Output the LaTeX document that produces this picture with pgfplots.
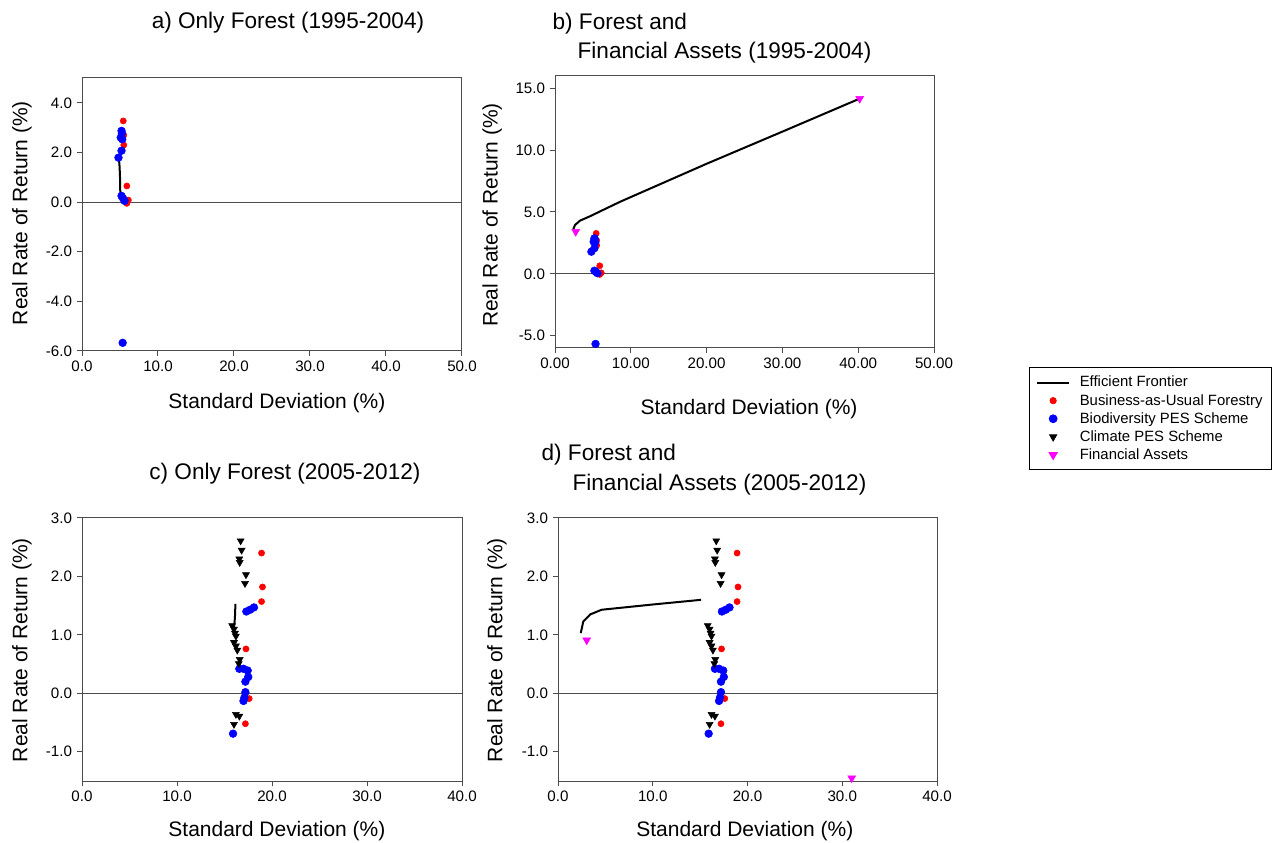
\documentclass[border=0pt]{standalone}
\usepackage{fontspec}
\setmainfont{Liberation Sans}
\usepackage{pgfplots}
\usepackage{pgfplotstable}
\pgfplotsset{compat=1.18}
\definecolor{mag}{RGB}{255,0,255}
\definecolor{bred}{RGB}{255,0,0}
\definecolor{bblue}{RGB}{0,0,255}

% ---------- data 1995-2004 ----------
\pgfplotstableread{
x y
5.43 3.27
5.50 2.70
5.50 2.30
5.90 0.65
6.10 0.08
5.90 -0.05
}\bauA
\pgfplotstableread{
x y
5.20 2.87
5.25 2.77
5.10 2.60
5.30 2.53
5.20 2.07
4.80 1.79
5.20 0.25
5.40 0.15
5.60 0.05
5.35 -5.67
}\bioA
\pgfplotstableread{
x y
4.85 1.80
4.95 1.40
5.00 1.00
5.02 0.60
5.05 0.30
}\frontA
\pgfplotstableread{
x y
2.41 3.60
2.64 3.95
3.30 4.30
4.60 4.65
6.80 5.30
8.60 5.83
20.0 8.90
30.0 11.50
40.2 14.17
}\frontB
\pgfplotstableread{
x y
2.73 3.41
40.2 14.17
}\finB
% ---------- data 2005-2012 ----------
\pgfplotstableread{
x y
18.9 2.40
19.0 1.82
18.9 1.57
17.26 0.76
17.6 -0.09
17.2 -0.52
}\bauC
\pgfplotstableread{
x y
17.3 1.40
17.7 1.43
18.1 1.47
16.56 0.42
17.0 0.42
17.44 0.39
17.5 0.28
17.2 0.20
17.2 0.02
17.1 -0.07
17.0 -0.13
15.9 -0.69
}\bioC
\pgfplotstableread{
x y
16.7 2.61
16.8 2.45
16.56 2.30
16.6 2.24
17.26 2.03
17.16 1.88
15.8 1.16
16.0 1.10
16.1 1.03
16.2 0.98
16.0 0.87
16.2 0.81
16.35 0.74
16.6 0.58
16.5 0.51
16.2 -0.36
16.56 -0.39
16.0 -0.53
}\cliC
\pgfplotstableread{
x y
16.15 1.53
16.10 1.30
16.00 1.11
}\frontC
\pgfplotstableread{
x y
2.40 1.03
2.67 1.23
3.40 1.35
4.60 1.43
10.0 1.52
15.1 1.60
}\frontD
\pgfplotstableread{
x y
3.03 0.91
31.0 -1.45
}\finD

\pgfplotsset{
  panel/.style={
    scale only axis,
    axis line style={black!70, line width=0.75bp},
    tick style={black!70, line width=0.75bp},
    tick align=outside,
    major tick length=4bp,
    xtick pos=left, ytick pos=left,
    ticklabel style={font=\fontsize{11.4}{13}\selectfont},
    label style={font=\fontsize{15.8}{19}\selectfont},
    title style={font=\fontsize{17}{22.5}\selectfont},
    xlabel={Standard Deviation (\%)},
    ylabel={Real Rate of Return (\%)},
  },
  bau/.style={only marks, mark=*, mark size=2.3bp, draw=bred, fill=bred, mark options={draw=bred, fill=bred}},
  bio/.style={only marks, mark=*, mark size=2.9bp, mark options={draw=bblue, fill=bblue}, draw=bblue, fill=bblue},
  cli/.style={only marks, mark=triangle*, mark size=3bp, mark options={rotate=180, draw=black, fill=black}, draw=black, fill=black},
  fin/.style={only marks, mark=triangle*, mark size=3.4bp, mark options={rotate=180, draw=mag, fill=mag}, draw=mag, fill=mag},
  front/.style={no marks, black, line width=1.5bp},
  zero/.style={black!70, line width=0.6bp, forget plot},
}

\begin{document}
\begin{tikzpicture}
\path[use as bounding box] (0,0) rectangle (955.5bp,632.25bp);

% ---------- a ----------
\begin{axis}[panel,
  at={(61.5bp,369bp)}, anchor=south west,
  width=285bp, height=204.75bp,
  xmin=0, xmax=50, ymin=-6, ymax=5,
  xtick={0,10,20,30,40,50}, xticklabels={0.0,10.0,20.0,30.0,40.0,50.0},
  ytick={-6,-4,-2,0,2,4}, yticklabels={-6.0,-4.0,-2.0,0.0,2.0,4.0},
  title={a) Only Forest (1995-2004)},
  title style={at={(axis description cs:0.542,1.175)}, anchor=center},
  xlabel style={at={(axis description cs:0.513,-0.19)}, anchor=center},
  ylabel style={at={(axis description cs:-0.158,0.505)}, anchor=center},
]
\addplot[zero] coordinates {(0,0) (50,0)};
\addplot[front] table[x=x,y=y] {\frontA};
\addplot[bau] table[x=x,y=y] {\bauA};
\addplot[bio] table[x=x,y=y] {\bioA};
\end{axis}

% ---------- b ----------
\begin{axis}[panel,
  at={(416.25bp,371.25bp)}, anchor=south west,
  width=284.25bp, height=204bp,
  xmin=0, xmax=50, ymin=-6, ymax=16,
  xtick={0,10,20,30,40,50}, xticklabels={0.00,10.00,20.00,30.00,40.00,50.00},
  ytick={-5,0,5,10,15}, yticklabels={-5.0,0.0,5.0,10.0,15.0},
  title={b) Forest and\\\hspace*{18.75bp}Financial Assets (1995-2004)},
  title style={at={(axis description cs:-0.0186,1.11)}, anchor=west, align=left},
  xlabel style={at={(axis description cs:0.512,-0.224)}, anchor=center},
  ylabel style={at={(axis description cs:-0.166,0.489)}, anchor=center},
]
\addplot[zero] coordinates {(0,0) (50,0)};
\addplot[front] table[x=x,y=y] {\frontB};
\addplot[bau] table[x=x,y=y] {\bauA};
\addplot[bio] table[x=x,y=y] {\bioA};
\addplot[fin] table[x=x,y=y] {\finB};
\end{axis}

% ---------- c ----------
\begin{axis}[panel,
  at={(61.5bp,46.5bp)}, anchor=south west,
  width=285bp, height=197.25bp,
  xmin=0, xmax=40, ymin=-1.5, ymax=3,
  xtick={0,10,20,30,40}, xticklabels={0.0,10.0,20.0,30.0,40.0},
  ytick={-1,0,1,2,3}, yticklabels={-1.0,0.0,1.0,2.0,3.0},
  title={c) Only Forest (2005-2012)},
  title style={at={(axis description cs:0.534,1.137)}, anchor=center},
  xlabel style={at={(axis description cs:0.513,-0.19)}, anchor=center},
  ylabel style={at={(axis description cs:-0.158,0.498)}, anchor=center},
]
\addplot[zero] coordinates {(0,0) (40,0)};
\addplot[bau] table[x=x,y=y] {\bauC};
\addplot[bio] table[x=x,y=y] {\bioC};
\addplot[cli] table[x=x,y=y] {\cliC};
\addplot[front] table[x=x,y=y] {\frontC};
\end{axis}

% ---------- d ----------
\begin{axis}[panel,
  at={(418.5bp,46.5bp)}, anchor=south west,
  width=284.25bp, height=197.25bp,
  xmin=0, xmax=40, ymin=-1.5, ymax=3,
  xtick={0,10,20,30,40}, xticklabels={0.0,10.0,20.0,30.0,40.0},
  ytick={-1,0,1,2,3}, yticklabels={-1.0,0.0,1.0,2.0,3.0},
  title={d) Forest and\\\hspace*{23.25bp}Financial Assets (2005-2012)},
  title style={at={(axis description cs:-0.0556,1.152)}, anchor=west, align=left},
  xlabel style={at={(axis description cs:0.493,-0.19)}, anchor=center},
  ylabel style={at={(axis description cs:-0.161,0.498)}, anchor=center},
  legend style={at={(axis description cs:1.2427,1.574)}, anchor=north west,
    draw=black, line width=0.75bp, font=\fontsize{11.2}{13.3}\selectfont,
    row sep=0bp, inner xsep=5bp, inner ysep=4.5bp, cells={anchor=west}},
  legend image code/.code={\draw[mark repeat=2,mark phase=2,#1] plot coordinates {(0bp,0bp) (12bp,0bp) (24bp,0bp)}; \path[draw=none,fill=none] (0bp,0bp) -- (30bp,0bp);},
]
\addplot[zero] coordinates {(0,0) (40,0)};
\addplot[front] table[x=x,y=y] {\frontD};
\addlegendentry{Efficient Frontier}
\addplot[bau] table[x=x,y=y] {\bauC};
\addlegendentry{Business-as-Usual Forestry}
\addplot[bio] table[x=x,y=y] {\bioC};
\addlegendentry{Biodiversity PES Scheme}
\addplot[cli] table[x=x,y=y] {\cliC};
\addlegendentry{Climate PES Scheme}
\addplot[fin] table[x=x,y=y] {\finD};
\addlegendentry{Financial Assets}
\end{axis}
\end{tikzpicture}
\end{document}
